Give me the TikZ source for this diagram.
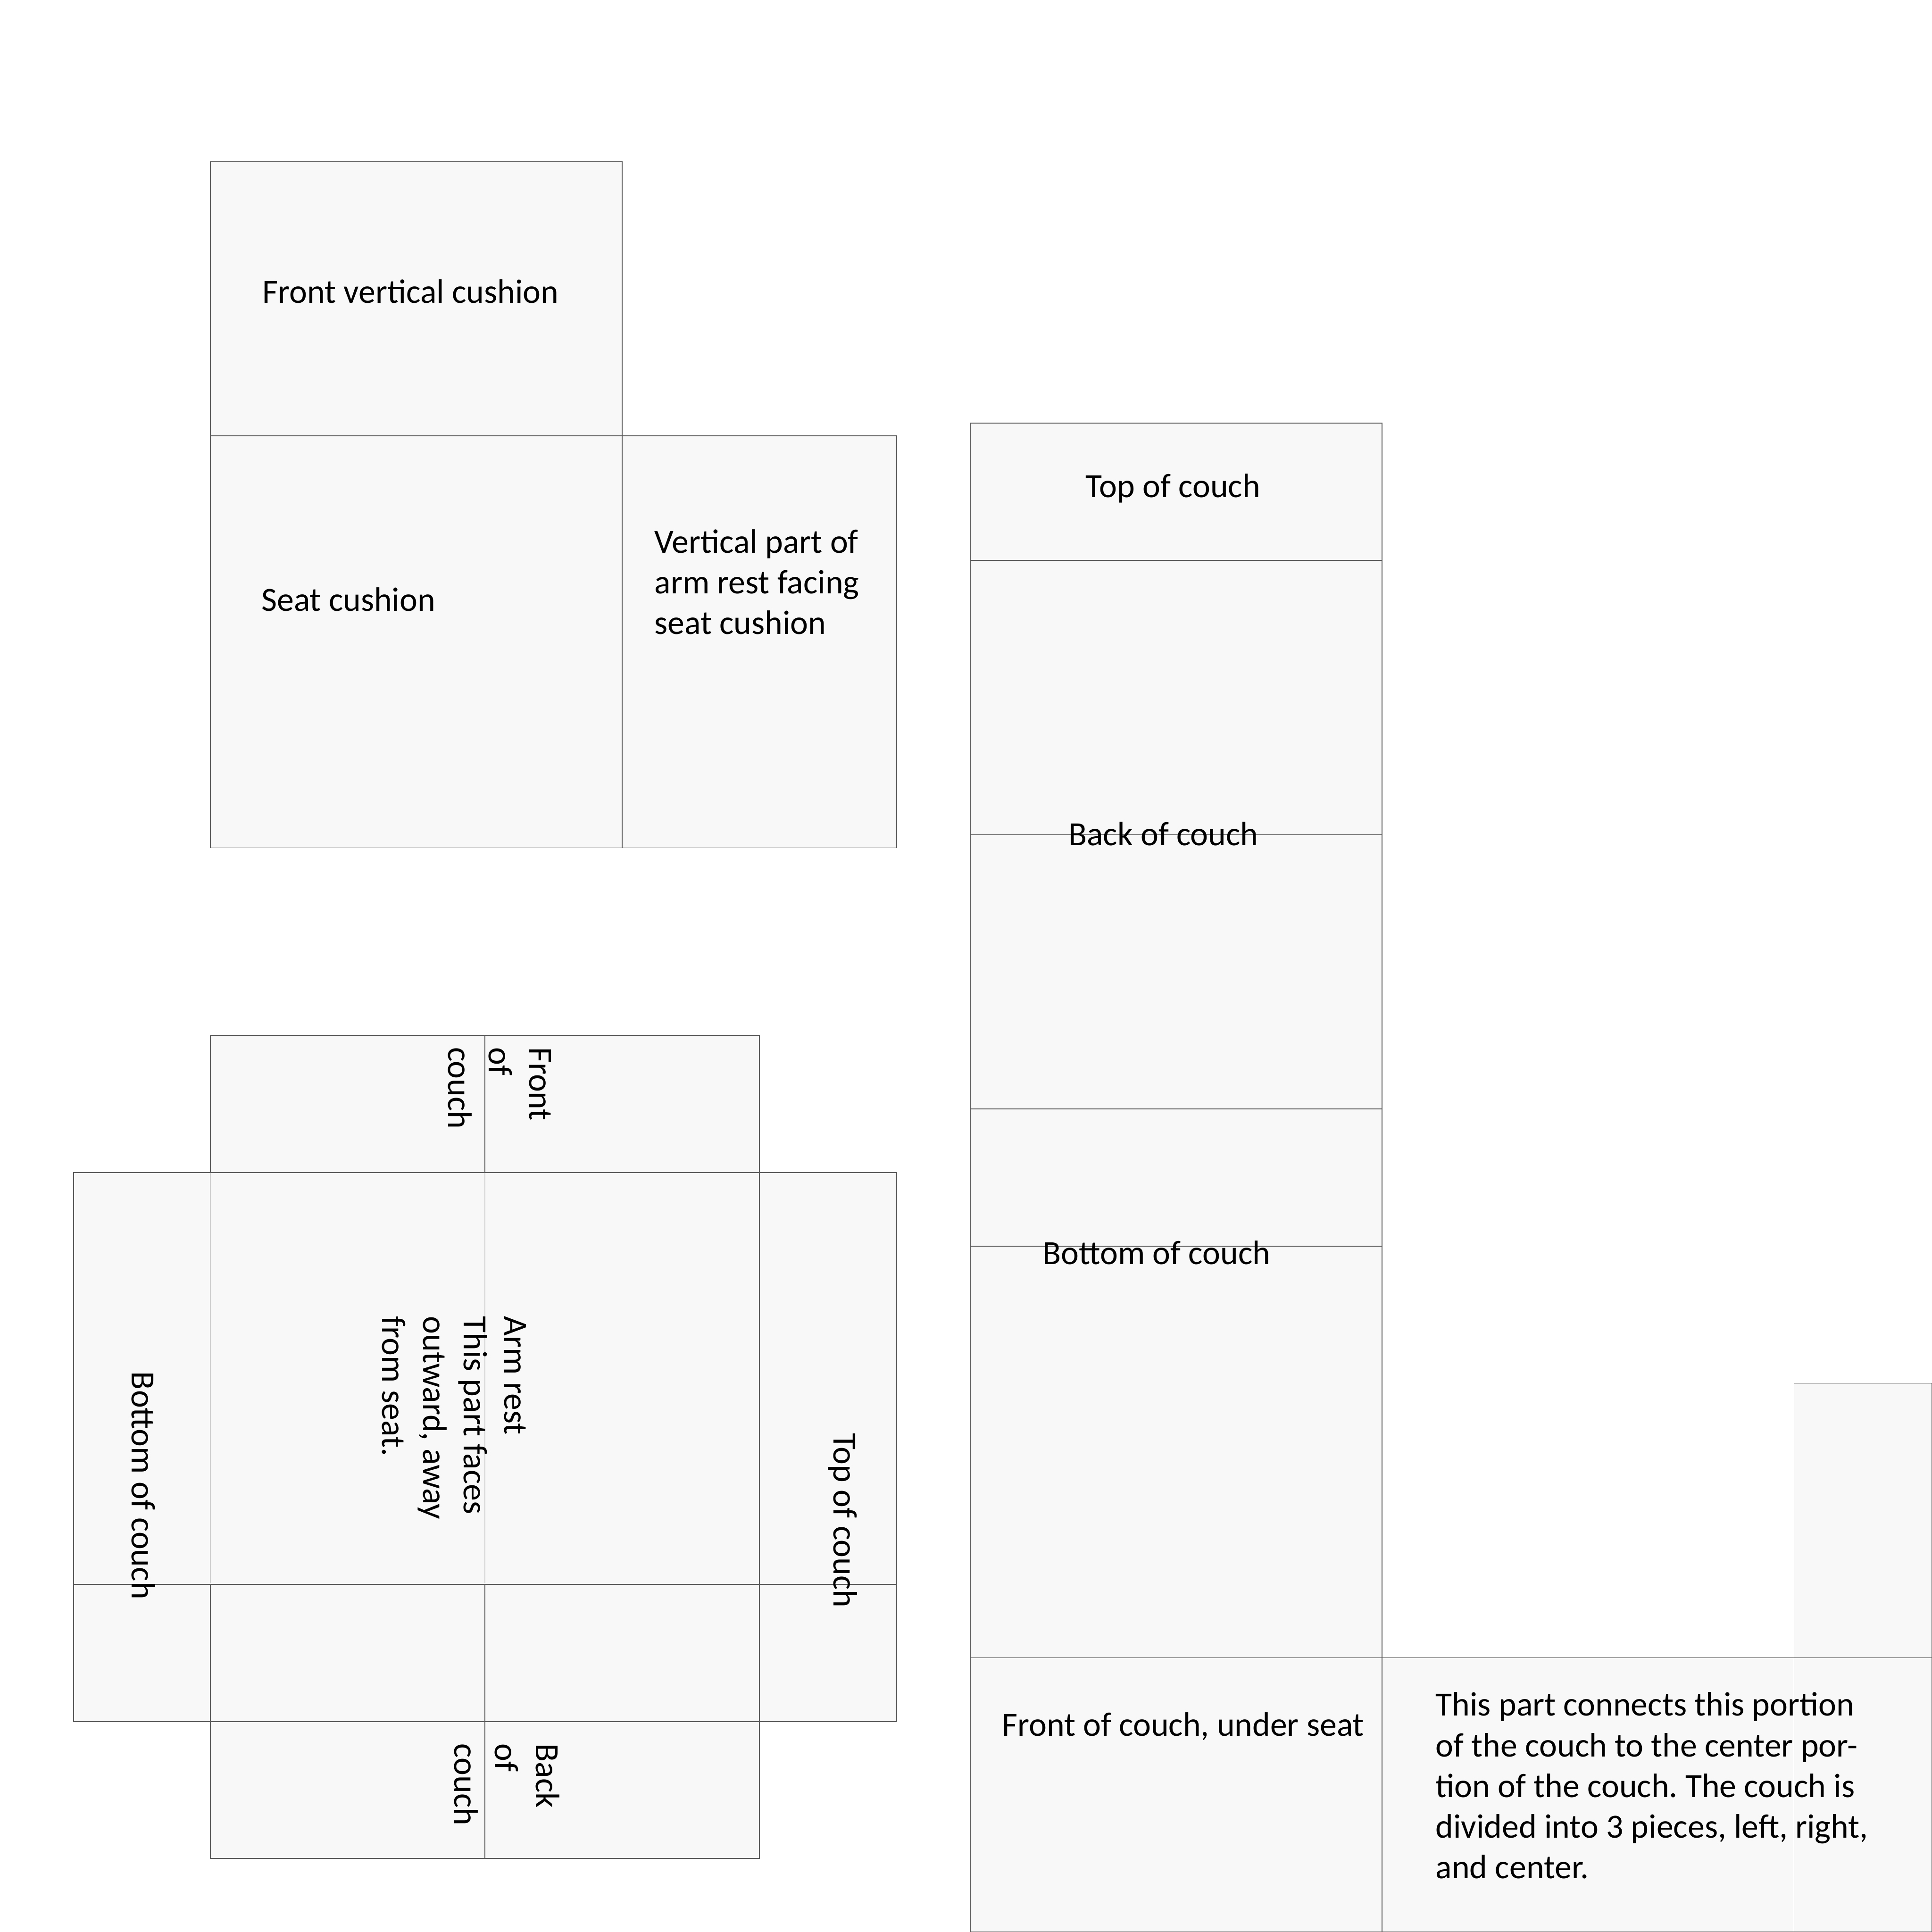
\documentclass[tikz,border=0pt]{standalone}
\usepackage{fontspec}
\setmainfont{Carlito}
\definecolor{edgegray}{HTML}{5A5A5A}
\definecolor{faintgray}{HTML}{CFCFCF}
\definecolor{panelfill}{HTML}{F8F8F8}
\frenchspacing
\begin{document}
\begin{tikzpicture}[x=1pt,y=-1pt,
  panel/.style={draw=edgegray,fill=panelfill,line width=0.7pt},
  edge/.style={draw=edgegray,line width=0.7pt},
  faint/.style={draw=faintgray,line width=0.7pt},
  lbl/.style={inner sep=0pt,font=\fontsize{27.5}{33}\selectfont,text=black},
  ml/.style={lbl,align=left,anchor=north west},
  sl/.style={lbl,anchor=base west},
  vl/.style={lbl,align=left,anchor=north west,rotate=-90}]
\path[use as bounding box,fill=white] (0,0) rectangle (1568,1568);

% ---- top-left group: cushions
\draw[panel] (170.8,131.3) rectangle (504.9,353.8);
\draw[panel] (170.8,353.8) rectangle (504.9,688.1);
\draw[panel] (504.9,353.8) rectangle (727.6,688.1);
\node[sl] (fvc) at (213,246) {Front vertical cushion};
\node[sl] (seat) at (212,496) {Seat cushion};
\node[ml] (varm) at (531,425.4) {\strut Vertical part of\\arm rest facing\\seat cushion};

% ---- right column: back of couch
\draw[panel] (787.5,343.4) rectangle (1121.7,454.7);
\draw[panel] (787.5,454.7) rectangle (1121.7,677.4);
\draw[panel] (787.5,677.4) rectangle (1121.7,900.1);
\draw[panel] (787.5,900.1) rectangle (1121.7,1011.4);
\draw[panel] (787.5,1011.4) rectangle (1121.7,1345.4);
\draw[panel] (787.5,1345.4) rectangle (1121.7,1568);
\draw[panel] (1121.7,1345.4) rectangle (1456.0,1568);
\draw[panel] (1456.0,1122.6) rectangle (1568,1345.4);
\draw[panel] (1456.0,1345.4) rectangle (1568,1568);
\node[sl] (topc) at (881,403.5) {Top of couch};
\node[sl] (backc) at (867,686) {Back of couch};
\node[sl] (botc) at (846,1026) {Bottom of couch};
\node[sl] (frontc) at (813,1409) {Front of couch, under seat};
\node[ml] (conn) at (1165,1369.3) {\strut This part connects this portion\\of the couch to the center por-\\tion of the couch. The couch is\\divided into 3 pieces, left, right,\\and center.};

% ---- bottom-left group: arm rest net
\draw[panel] (170.8,840.3) rectangle (393.6,951.7);
\draw[panel] (393.6,840.3) rectangle (616.2,951.7);
\draw[panel] (170.8,1397.1) rectangle (393.6,1508.4);
\draw[panel] (393.6,1397.1) rectangle (616.2,1508.4);
\draw[panel] (59.6,951.7) rectangle (727.6,1397.1);
\draw[faint] (170.8,952.2) -- (170.8,1285.2);
\draw[faint] (393.6,952.2) -- (393.6,1285.2);
\draw[edge] (59.6,1285.7) -- (727.6,1285.7);
\draw[edge] (616.2,951.7) -- (616.2,1397.1);
\draw[edge] (170.8,1285.7) -- (170.8,1397.1);
\draw[edge] (393.6,1285.7) -- (393.6,1397.1);

\node[vl] (frontv) at (453.1,849.7) {\strut Front\\of\\couch};
\node[vl] (armv) at (432.7,1068) {\strut Arm rest\\This part faces\\outward, away\\from seat.};
\node[vl] (botv) at (130.4,1113) {\strut Bottom of couch};
\node[vl] (topv) at (699.9,1163) {\strut Top of couch};
\node[vl] (backv) at (458.2,1415) {\strut Back\\of\\couch};
\end{tikzpicture}
\end{document}
